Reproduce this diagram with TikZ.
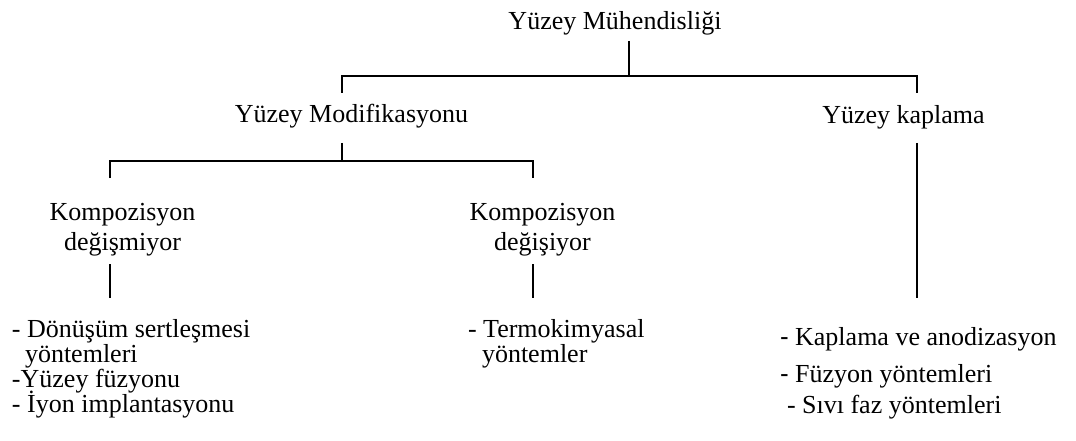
\documentclass[tikz,border=0pt]{standalone}
\usepackage{fontspec}
\setmainfont{Liberation Serif}
\newfontfamily\dashfont{Liberation Sans}
\begin{document}
\begin{tikzpicture}[x=1pt,y=-1pt,
  lbl/.style={inner sep=0pt,outer sep=0pt,font=\fontsize{26}{30}\selectfont},
  ctr/.style={lbl,anchor=base},
  lft/.style={lbl,anchor=base west},
  conn/.style={line width=1.6pt,line join=miter}]
\useasboundingbox (0,0) rectangle (1076,441);
% texts
\node[ctr] (root) at (615,30) {Yüzey Mühendisliği};
\node[ctr] (mod) at (351.5,123) {Yüzey Modifikasyonu};
\node[ctr] (kap) at (903.5,124) {Yüzey kaplama};
\node[ctr] (k1a) at (122.5,220) {Kompozisyon};
\node[ctr] (k1b) at (122.5,250) {değişmiyor};
\node[ctr] (k2a) at (542.5,220) {Kompozisyon};
\node[ctr] (k2b) at (542.5,250) {değişiyor};
\node[lft] (l1) at (12,337) {- Dönüşüm sertleşmesi};
\node[lft] (l2) at (25,362) {yöntemleri};
\node[lft] (l3) at (12,387) {-Yüzey füzyonu};
\node[lft] (l4) at (12,412) {- İyon implantasyonu};
\node[lft] (m1) at (468,337) {- Termokimyasal};
\node[lft] (m2) at (482,362) {yöntemler};
\node[lft] (r1) at (780,345) {{\dashfont -} Kaplama ve anodizasyon};
\node[lft] (r2) at (780,382) {{\dashfont -} Füzyon yöntemleri};
\node[lft] (r3) at (787,413) {- Sıvı faz yöntemleri};
% connector end points
\coordinate (rootB) at (629,41);
\coordinate (rootJ) at (629,76);
\coordinate (modT) at (342,93);
\coordinate (kapT) at (917,93);
\coordinate (modB) at (342,143);
\coordinate (modJ) at (342,161);
\coordinate (k1T) at (110,178);
\coordinate (k2T) at (533,178);
\coordinate (k1B) at (110,264);
\coordinate (k2B) at (533,264);
\coordinate (l1T) at (110,298);
\coordinate (m1T) at (533,298);
\coordinate (kapB) at (917,143);
\coordinate (r1T) at (917,298);
% connectors
\draw[conn] (rootB) -- (rootJ);
\draw[conn] (modT) |- (rootJ) -| (kapT);
\draw[conn] (modB) -- (modJ);
\draw[conn] (k1T) |- (modJ) -| (k2T);
\draw[conn] (k1B) -- (l1T);
\draw[conn] (k2B) -- (m1T);
\draw[conn] (kapB) -- (r1T);
\end{tikzpicture}
\end{document}
